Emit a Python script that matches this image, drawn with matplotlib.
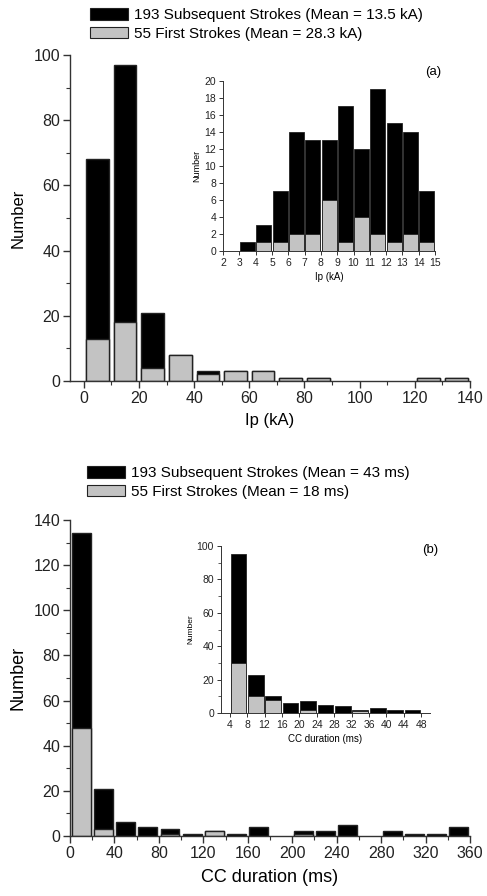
import matplotlib
matplotlib.use('Agg')
import matplotlib.pyplot as plt
from matplotlib.patches import Patch
from matplotlib.ticker import MultipleLocator

plt.rcParams['font.family'] = ['Liberation Sans', 'DejaVu Sans']

# (a) peak current, 10 kA bins
ipBinStarts = [0, 10, 20, 30, 40, 50, 60, 70, 80, 90, 100, 110, 120, 130]
ipTotal = [68, 97, 21, 8, 3, 3, 3, 1, 1, 0, 0, 0, 1, 1]
ipFirst = [13, 18, 4, 8, 2, 3, 3, 1, 1, 0, 0, 0, 1, 1]

# (a) inset, 1 kA bins
ipInsetStarts = [3, 4, 5, 6, 7, 8, 9, 10, 11, 12, 13, 14]
ipInsetTotal = [1, 3, 7, 14, 13, 13, 17, 12, 19, 15, 14, 7]
ipInsetFirst = [0, 1, 1, 2, 2, 6, 1, 4, 2, 1, 2, 1]

# (b) continuing current duration, 20 ms bins
ccBinStarts = [0, 20, 40, 60, 80, 100, 120, 140, 160, 180, 200, 220, 240, 260, 280, 300, 320, 340]
ccTotal = [134, 21, 6, 4, 3, 1, 2, 1, 4, 0, 2, 2, 5, 0, 2, 1, 1, 4]
ccFirst = [48, 3, 0, 0, 1, 0, 2, 0, 0, 0, 1, 0, 0, 0, 0, 0, 0, 0]

# (b) inset, 4 ms bins
ccInsetStarts = [4, 8, 12, 16, 20, 24, 28, 32, 36, 40, 44]
ccInsetTotal = [95, 23, 10, 6, 7, 5, 4, 2, 3, 2, 2]
ccInsetFirst = [30, 10, 8, 0, 2, 0, 0, 1, 0, 0, 0]

legendA = ['193 Subsequent Strokes (Mean = 13.5 kA)', '55 First Strokes (Mean = 28.3 kA)']
legendB = ['193 Subsequent Strokes (Mean = 43 ms)', '55 First Strokes (Mean = 18 ms)']

GRAY = '#c3c3c3'
EDGE = '#222222'
AXIS = '#333333'


def drawBars(ax, starts, total, first, binWidth, frac, lw=0.8):
    # empty bins are left out so they don't leave a line on the axis
    for s, t, f in zip(starts, total, first):
        c = s + binWidth / 2
        if t > 0:
            ax.bar(c, t, width=binWidth * frac, color='black', edgecolor=EDGE, linewidth=lw, zorder=2)
        if f > 0:
            ax.bar(c, f, width=binWidth * frac, color=GRAY, edgecolor=EDGE, linewidth=lw, zorder=3)


def styleAxes(ax, tickSize, majorLen, minorLen, lw=1.0):
    for side in ['top', 'right']:
        ax.spines[side].set_visible(False)
    for side in ['left', 'bottom']:
        ax.spines[side].set_color(AXIS)
        ax.spines[side].set_linewidth(lw)
        ax.spines[side].set_zorder(4)
    ax.tick_params(which='major', direction='out', length=majorLen, width=lw, color=AXIS,
                   labelsize=tickSize, labelcolor='#222222', pad=2)
    ax.tick_params(which='minor', direction='out', length=minorLen, width=lw * 0.8, color=AXIS)


def addLegend(fig, labels, anchor, size):
    handles = [Patch(facecolor='black', edgecolor=EDGE, linewidth=0.8),
               Patch(facecolor=GRAY, edgecolor=EDGE, linewidth=0.8)]
    fig.legend(handles, labels, loc='upper left', bbox_to_anchor=anchor, frameon=False,
               fontsize=size, handlelength=2.5, handleheight=0.8, handletextpad=0.4,
               labelspacing=0.3, borderaxespad=0, borderpad=0)


fig = plt.figure(figsize=(4.87, 8.96), dpi=100)

# ---- panel (a)
axA = fig.add_axes([0.1437, 0.5748, 0.8214, 0.3638])
drawBars(axA, ipBinStarts, ipTotal, ipFirst, 10, 0.82, lw=1.0)
axA.set_xlim(-5, 140)
axA.set_ylim(0, 100)
axA.xaxis.set_major_locator(MultipleLocator(20))
axA.xaxis.set_minor_locator(MultipleLocator(10))
axA.yaxis.set_major_locator(MultipleLocator(20))
axA.yaxis.set_minor_locator(MultipleLocator(10))
styleAxes(axA, 11.5, 5, 3)
axA.set_xlabel('Ip (kA)', fontsize=12, labelpad=5)
axA.set_ylabel('Number', fontsize=12, labelpad=6)

insA = fig.add_axes([0.458, 0.7199, 0.4353, 0.1897])
drawBars(insA, ipInsetStarts, ipInsetTotal, ipInsetFirst, 1, 0.92, lw=0.6)
insA.set_xlim(2, 15)
insA.set_ylim(0, 20)
insA.xaxis.set_major_locator(MultipleLocator(1))
insA.yaxis.set_major_locator(MultipleLocator(2))
styleAxes(insA, 7.5, 3, 2, lw=0.7)
insA.set_xlabel('Ip (kA)', fontsize=7, labelpad=3)
insA.set_ylabel('Number', fontsize=6.5, labelpad=2)

fig.text(433 / 487, 1 - 72 / 896, '(a)', fontsize=9.5, ha='center', va='center')
addLegend(fig, legendA, (90 / 487, 1 - 8 / 896), 11)

# ---- panel (b)
axB = fig.add_axes([0.1437, 0.0670, 0.8214, 0.3527])
drawBars(axB, ccBinStarts, ccTotal, ccFirst, 20, 0.85, lw=1.0)
axB.set_xlim(0, 360)
axB.set_ylim(0, 140)
axB.xaxis.set_major_locator(MultipleLocator(40))
axB.xaxis.set_minor_locator(MultipleLocator(20))
axB.yaxis.set_major_locator(MultipleLocator(20))
axB.yaxis.set_minor_locator(MultipleLocator(10))
styleAxes(axB, 11.5, 5, 3)
axB.set_xlabel('CC duration (ms)', fontsize=13, labelpad=6)
axB.set_ylabel('Number', fontsize=13, labelpad=5)

insB = fig.add_axes([0.4538, 0.2042, 0.429, 0.1864])
drawBars(insB, ccInsetStarts, ccInsetTotal, ccInsetFirst, 4, 0.9, lw=0.6)
insB.set_xlim(2, 50)
insB.set_ylim(0, 100)
insB.xaxis.set_major_locator(MultipleLocator(4))
insB.yaxis.set_major_locator(MultipleLocator(20))
insB.yaxis.set_minor_locator(MultipleLocator(10))
styleAxes(insB, 7.5, 3, 2, lw=0.7)
insB.set_xlabel('CC duration (ms)', fontsize=7, labelpad=3)
insB.set_ylabel('Number', fontsize=6, labelpad=2)

fig.text(430 / 487, 1 - 550 / 896, '(b)', fontsize=9.5, ha='center', va='center')
addLegend(fig, legendB, (87 / 487, 1 - 466 / 896), 11)

fig.savefig('out.png', dpi=100)
